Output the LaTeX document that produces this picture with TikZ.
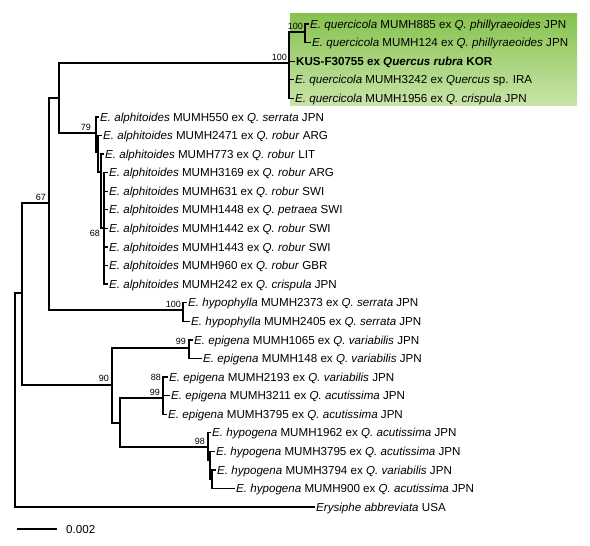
\documentclass[tikz,border=0pt]{standalone}
\usepackage{fontspec}
\setmainfont{Liberation Sans}
\newcommand\tipfnt{\fontsize{11.6}{13}\selectfont}
\newcommand\bsfnt{\fontsize{9}{10}\selectfont}
\definecolor{boxgreen}{RGB}{134,194,78}
\definecolor{boxlight}{RGB}{200,228,168}
\tikzset{
  br/.style={line width=1.3pt, line cap=rect},
  tip/.style={anchor=west, inner xsep=2pt, inner ysep=0pt, font=\tipfnt, text height=8.3pt, text depth=0pt},
  bsl/.style={font=\bsfnt, inner sep=1pt},
}
\begin{document}
\begin{tikzpicture}[x=1pt,y=-1pt]
\useasboundingbox (0,0) rectangle (590,546);
% highlight box
\shade[top color=boxgreen, middle color=boxgreen, bottom color=boxlight] (290,13) rectangle (577,105);

% internal nodes
\coordinate (R) at (15,400);
\coordinate (A) at (22,293);
\coordinate (n67) at (49,203);
\coordinate (nQA) at (59,98);
\coordinate (nQ) at (289,63);
\coordinate (nQb) at (305,32);
\coordinate (n79) at (96,133);
\coordinate (nA2) at (98,152);
\coordinate (nA3) at (101,172);
\coordinate (n68) at (104,228);
\coordinate (nHy) at (183,310);
\coordinate (n90) at (112,385);
\coordinate (nE1) at (189,348);
\coordinate (nEH) at (120,423);
\coordinate (nE2) at (163,398);
\coordinate (n98) at (208,447);
\coordinate (nH2) at (210,460);
\coordinate (nH3) at (212,479);

% tips
\node[tip] (t885) at (308,24) {\textit{E. quercicola} MUMH885 ex \textit{Q. phillyraeoides} JPN};
\node[tip] (t124) at (310,42.6) {\textit{E. quercicola} MUMH124 ex \textit{Q. phillyraeoides} JPN};
\node[tip] (tKUS) at (294,61.2) {\textbf{KUS-F30755 ex \textit{Quercus rubra} KOR}};
\node[tip] (t3242) at (293,79.7) {\textit{E. quercicola} MUMH3242 ex \textit{Quercus} sp. IRA};
\node[tip] (t1956) at (293,98.3) {\textit{E. quercicola} MUMH1956 ex \textit{Q. crispula} JPN};
\node[tip] (t550) at (98,116.9) {\textit{E. alphitoides} MUMH550 ex \textit{Q. serrata} JPN};
\node[tip] (t2471) at (101,135.5) {\textit{E. alphitoides} MUMH2471 ex \textit{Q. robur} ARG};
\node[tip] (t773) at (103,154.1) {\textit{E. alphitoides} MUMH773 ex \textit{Q. robur} LIT};
\node[tip] (t3169) at (107,172.6) {\textit{E. alphitoides} MUMH3169 ex \textit{Q. robur} ARG};
\node[tip] (t631) at (107,191.2) {\textit{E. alphitoides} MUMH631 ex \textit{Q. robur} SWI};
\node[tip] (t1448) at (107,209.8) {\textit{E. alphitoides} MUMH1448 ex \textit{Q. petraea} SWI};
\node[tip] (t1442) at (107,228.4) {\textit{E. alphitoides} MUMH1442 ex \textit{Q. robur} SWI};
\node[tip] (t1443) at (107,247) {\textit{E. alphitoides} MUMH1443 ex \textit{Q. robur} SWI};
\node[tip] (t960) at (107,265.5) {\textit{E. alphitoides} MUMH960 ex \textit{Q. robur} GBR};
\node[tip] (t242) at (107,284.1) {\textit{E. alphitoides} MUMH242 ex \textit{Q. crispula} JPN};
\node[tip] (t2373) at (186,302.7) {\textit{E. hypophylla} MUMH2373 ex \textit{Q. serrata} JPN};
\node[tip] (t2405) at (189,321.3) {\textit{E. hypophylla} MUMH2405 ex \textit{Q. serrata} JPN};
\node[tip] (t1065) at (192,339.9) {\textit{E. epigena} MUMH1065 ex \textit{Q. variabilis} JPN};
\node[tip] (t148) at (201,358.4) {\textit{E. epigena} MUMH148 ex \textit{Q. variabilis} JPN};
\node[tip] (t2193) at (167,377) {\textit{E. epigena} MUMH2193 ex \textit{Q. variabilis} JPN};
\node[tip] (t3211) at (169,395.6) {\textit{E. epigena} MUMH3211 ex \textit{Q. acutissima} JPN};
\node[tip] (t3795e) at (166,414.2) {\textit{E. epigena} MUMH3795 ex \textit{Q. acutissima} JPN};
\node[tip] (t1962) at (210,432.8) {\textit{E. hypogena} MUMH1962 ex \textit{Q. acutissima} JPN};
\node[tip] (t3795h) at (214,451.3) {\textit{E. hypogena} MUMH3795 ex \textit{Q. acutissima} JPN};
\node[tip] (t3794) at (215,469.9) {\textit{E. hypogena} MUMH3794 ex \textit{Q. variabilis} JPN};
\node[tip] (t900) at (234,488.5) {\textit{E. hypogena} MUMH900 ex \textit{Q. acutissima} JPN};
\node[tip] (tEry) at (314,507.1) {\textit{Erysiphe abbreviata} USA};

% branches
\draw[br] (R) |- (A);
\draw[br] (R) |- (tEry.west);
\draw[br] (A) |- (n67);
\draw[br] (A) |- (n90);
\draw[br] (n67) |- (nQA);
\draw[br] (n67) |- (nHy);
\draw[br] (nQA) |- (nQ);
\draw[br] (nQA) |- (n79);
\draw[br] (nQ) |- (nQb);
\draw[br] (nQ) |- (tKUS.west);
\draw[br] (nQ) |- (t3242.west);
\draw[br] (nQ) |- (t1956.west);
\draw[br] (nQb) |- (t885.west);
\draw[br] (nQb) |- (t124.west);
\draw[br] (n79) |- (t550.west);
\draw[br] (n79) |- (nA2);
\draw[br] (nA2) |- (t2471.west);
\draw[br] (nA2) |- (nA3);
\draw[br] (nA3) |- (t773.west);
\draw[br] (nA3) |- (n68);
\foreach \t in {t3169,t631,t1448,t1442,t1443,t960,t242}
  \draw[br] (n68) |- (\t.west);
\draw[br] (nHy) |- (t2373.west);
\draw[br] (nHy) |- (t2405.west);
\draw[br] (n90) |- (nE1);
\draw[br] (n90) |- (nEH);
\draw[br] (nE1) |- (t1065.west);
\draw[br] (nE1) |- (t148.west);
\draw[br] (nEH) |- (nE2);
\draw[br] (nEH) |- (n98);
\draw[br] (nE2) |- (t2193.west);
\draw[br] (nE2) |- (t3211.west);
\draw[br] (nE2) |- (t3795e.west);
\draw[br] (n98) |- (t1962.west);
\draw[br] (n98) |- (nH2);
\draw[br] (nH2) |- (t3795h.west);
\draw[br] (nH2) |- (nH3);
\draw[br] (nH3) |- (t3794.west);
\draw[br] (nH3) |- (t900.west);

% bootstrap values
\node[bsl, anchor=south east] (b1) at (304,31) {100};
\node[bsl, anchor=south east] (b2) at (288,62) {100};
\node[bsl, anchor=south east] (b3) at (92,132) {79};
\node[bsl, anchor=north east] (b4) at (101,229) {68};
\node[bsl, anchor=south east] (b5) at (47,202) {67};
\node[bsl, anchor=south east] (b6) at (182,309) {100};
\node[bsl, anchor=south east] (b7) at (187,346) {99};
\node[bsl, anchor=south east] (b8) at (110,383) {90};
\node[bsl, anchor=east] (b9) at (162,377) {88};
\node[bsl, anchor=south east] (b10) at (161,397) {99};
\node[bsl, anchor=south east] (b11) at (206,446) {98};

% scale bar
\coordinate (sb1) at (17,529);
\coordinate (sb2) at (57,529);
\draw[br, line cap=butt] (sb1) -- (sb2);
\node[tip] (sbl) at (64,529) {0.002};
\end{tikzpicture}
\end{document}
